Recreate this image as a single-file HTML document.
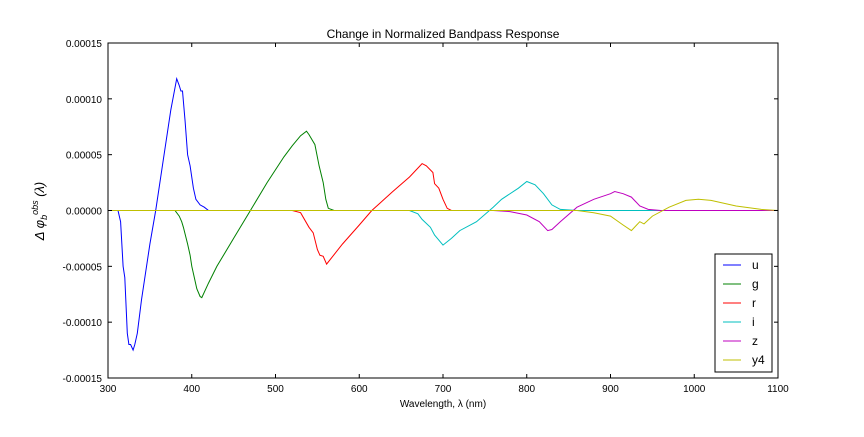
<!DOCTYPE html>
<html><head><meta charset="utf-8"><style>
body{margin:0;background:#fff;}
svg{font-family:"Liberation Sans",sans-serif;}
</style></head><body>
<svg id="c" width="864" height="432" xmlns="http://www.w3.org/2000/svg">
<rect width="864" height="432" fill="#fff"/>
<text x="443" y="38" font-size="12" text-anchor="middle">Change in Normalized Bandpass Response</text>
<text x="443" y="407" font-size="10" text-anchor="middle">Wavelength, λ (nm)</text>
<text transform="translate(44,211) rotate(-90)" font-size="13" text-anchor="middle" font-style="italic">Δ φ<tspan font-size="9" dy="3">b</tspan><tspan font-size="9" dy="-9">obs</tspan><tspan dy="6"> (λ)</tspan></text>
<g id="plot"></g>
</svg>
<script>
const xTicks=[300,400,500,600,700,800,900,1000,1100];
const yTicks=[0.00015,0.00010,0.00005,0,-0.00005,-0.00010,-0.00015];
const yTickLabels=["0.00015","0.00010","0.00005","0.00000","-0.00005","-0.00010","-0.00015"];
const bandNames=["u","g","r","i","z","y4"];
const bandColors=["#0000ff","#008000","#ff0000","#00bfbf","#bf00bf","#bfbf00"];
const uW=[300,312,315,318,320,323,325,327,330,332,335,340,350,357,365,375,382,385,387,389,392,395,398,402,405,410,415,420,1100];
const uV=[0,0,-1,-5,-6,-11,-12,-12,-12.5,-12,-11,-8,-3,0,4,9,11.8,11.2,10.7,10.7,8,5,4,2,1,0.5,0.3,0,0];
const gW=[300,380,385,388,390,395,398,400,403,406,410,412,420,430,450,470,490,510,520,530,537,540,547,552,557,560,563,570,1100];
const gV=[0,0,-0.5,-1,-1.5,-3,-4,-5,-6,-7,-7.7,-7.8,-6.5,-5,-2.5,0,2.5,4.8,5.8,6.7,7.1,6.8,5.9,4,2.5,1,0.2,0,0];
const rW=[300,520,530,540,545,550,553,557,561,580,600,615,640,660,675,680,688,690,695,700,705,710,1100];
const rV=[0,0,-0.2,-1.5,-2,-3.5,-4,-4.1,-4.8,-3,-1.3,0,1.7,3,4.2,4,3.4,2.4,2,1,0.2,0,0];
const iW=[300,660,670,675,685,690,700,710,720,740,760,770,790,800,810,820,830,840,860,1100];
const iV=[0,0,-0.3,-0.8,-1.5,-2.2,-3.1,-2.5,-1.8,-1,0.3,1,2,2.6,2.3,1.5,0.5,0.1,0,0];
const zW=[300,760,780,800,815,825,830,840,860,880,900,905,915,925,935,945,960,1100];
const zV=[0,0,-0.1,-0.4,-1.0,-1.8,-1.7,-1,0.3,1.0,1.5,1.7,1.5,1.2,0.4,0.1,0,0];
const yW=[300,860,880,900,915,925,930,935,940,950,970,990,1005,1020,1050,1080,1100];
const yV=[0,0,-0.2,-0.5,-1.3,-1.8,-1.4,-1.0,-1.2,-0.5,0.3,0.9,1.0,0.9,0.4,0.1,0];
const series=[[uW,uV],[gW,gV],[rW,rV],[iW,iV],[zW,zV],[yW,yV]];
const L=108,R=778,T=43,B=378;
const sx=w=>L+(w-300)/800*(R-L);
const sy=v=>T+(0.00015-v)/0.0003*(B-T);
const NS="http://www.w3.org/2000/svg";
const g=document.getElementById('plot');
function mk(t,a){const e=document.createElementNS(NS,t);for(const k in a)e.setAttribute(k,a[k]);g.appendChild(e);return e;}
series.forEach((s,k)=>{
  const d=s[0].map((w,j)=>(j?'L':'M')+sx(w).toFixed(1)+','+sy(s[1][j]*1e-5).toFixed(1)).join('');
  const p=mk('path',{d:d,fill:'none',stroke:bandColors[k],'stroke-width':1});
  
  
});
const fr=mk('rect',{x:L,y:T,width:R-L,height:B-T,fill:'none',stroke:'#000','stroke-width':1});


xTicks.forEach(t=>{
  const x=sx(t);
  mk('line',{x1:x,x2:x,y1:B,y2:B-4,stroke:'#000'});
  mk('line',{x1:x,x2:x,y1:T,y2:T+4,stroke:'#000'});
  const tx=mk('text',{x:x,y:B+14,'font-size':10,'text-anchor':'middle'});
  tx.textContent=t;
  
  
});
yTicks.forEach((t,i)=>{
  const y=sy(t);
  mk('line',{x1:L,x2:L+4,y1:y,y2:y,stroke:'#000'});
  mk('line',{x1:R,x2:R-4,y1:y,y2:y,stroke:'#000'});
  const tx=mk('text',{x:L-6,y:y+4,'font-size':10,'text-anchor':'end'});
  tx.textContent=yTickLabels[i];
  
  
});
const lg=mk('rect',{x:715,y:254,width:57,height:118,fill:'#fff',stroke:'#000'});


bandNames.forEach((n,k)=>{
  const y=265+k*19;
  mk('line',{x1:723,x2:741,y1:y,y2:y,stroke:bandColors[k]});
  const t=mk('text',{x:752,y:y+4,'font-size':12});
  t.textContent=n;
  
  
});
</script>
</body></html>
